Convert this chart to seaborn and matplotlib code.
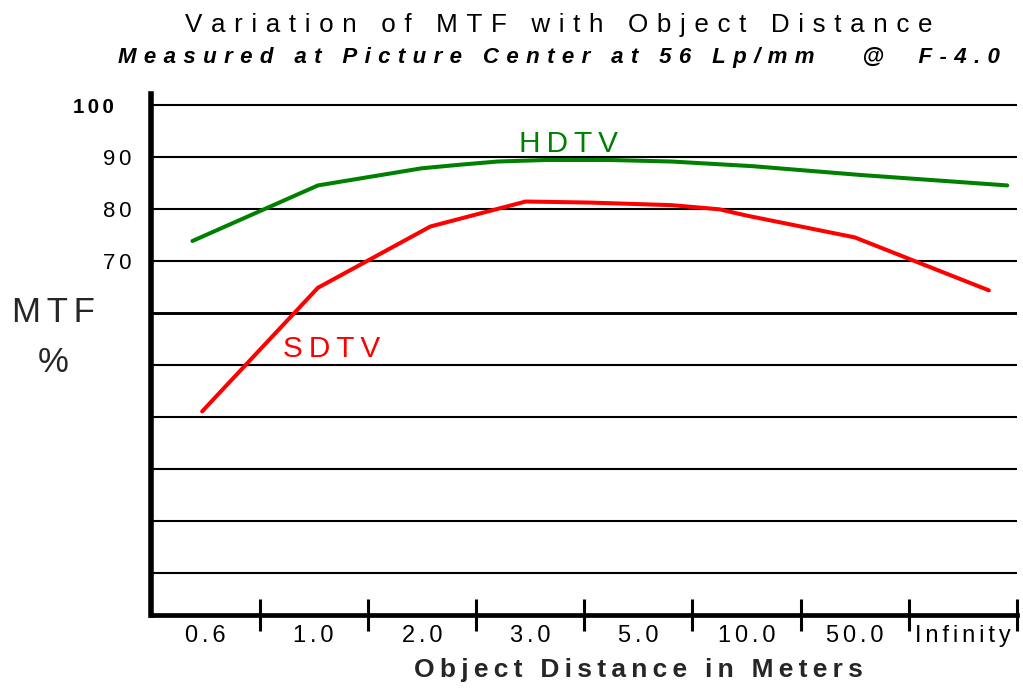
import matplotlib
matplotlib.use("Agg")
import matplotlib.pyplot as plt
import numpy as np
import pandas as pd
import seaborn as sns

# ---------------- data ----------------
categories = ["0.6", "1.0", "2.0", "3.0", "5.0", "10.0", "50.0", "Infinity"]

# positions along the categorical axis (category index units) and MTF values (%)
hdtv_pos = [-0.12, 1.04, 2.0, 2.36, 2.70, 3.15, 3.73, 4.31, 5.06, 6.06, 7.41]
hdtv_mtf = [73.9, 84.6, 87.9, 88.6, 89.2, 89.5, 89.5, 89.2, 88.3, 86.6, 84.6]

sdtv_pos = [-0.03, 1.04, 2.08, 2.96, 3.55, 4.31, 4.75, 5.0, 6.0, 7.24]
sdtv_mtf = [41.1, 64.9, 76.7, 81.5, 81.3, 80.8, 80.0, 78.8, 74.6, 64.4]

grid_values = [10, 20, 30, 40, 50, 60, 70, 80, 90, 100]
ytick_labels = ["", "", "", "", "", "", "70", "80", "90", ""]

title = "Variation of MTF with Object Distance"
subtitle = "Measured at Picture Center at 56 Lp/mm   @  F-4.0"
xlabel = "Object Distance in Meters"
ylabel_top = "MTF"
ylabel_bottom = "%"

# ---------------- style ----------------
sns.set_theme(style="white")
FAM = ["Liberation Sans", "DejaVu Sans"]
plt.rcParams["font.family"] = FAM
plt.rcParams["text.color"] = "black"
plt.rcParams["xtick.color"] = "black"
plt.rcParams["ytick.color"] = "black"


def track(s, sep):
    """Letter-spaced rendering of a string (extra tracking like the original)."""
    return sep.join(s)


HAIR6 = "\u2006"   # 1/6 em
THIN = "\u2009"    # 1/5 em
THIRD = "\u2004"   # 1/3 em

fig = plt.figure(figsize=(10.23, 6.88), dpi=100)
ax = fig.add_axes([151.3 / 1023, (688 - 615) / 688, (1017 - 151.3) / 1023, (615 - 94) / 688])

df_h = pd.DataFrame({"pos": hdtv_pos, "mtf": hdtv_mtf})
df_s = pd.DataFrame({"pos": sdtv_pos, "mtf": sdtv_mtf})
sns.lineplot(data=df_h, x="pos", y="mtf", ax=ax, color="#008000", linewidth=2.9,
             sort=False, zorder=3)
sns.lineplot(data=df_s, x="pos", y="mtf", ax=ax, color="#ff0000", linewidth=2.9,
             sort=False, zorder=3)

ax.set_xlim(-0.5, len(categories) - 0.5)
ax.set_ylim(1.9, 102.2)

# spines
for s in ["top", "right"]:
    ax.spines[s].set_visible(False)
ax.spines["left"].set_linewidth(4.0)
ax.spines["bottom"].set_linewidth(3.4)
ax.spines["left"].set_color("black")
ax.spines["bottom"].set_color("black")

# x ticks: labels at category centres, tick marks at band boundaries
ax.set_xticks(np.arange(len(categories)))
ax.set_xticklabels([track(c, HAIR6) for c in categories])
ax.set_xticks(np.arange(0.5, len(categories), 1.0), minor=True)
ax.tick_params(axis="x", which="major", length=0, pad=7.5, labelsize=17)
ax.tick_params(axis="x", which="minor", direction="inout", length=23, width=2.2,
               color="black", bottom=True)

# y grid
ax.set_yticks(grid_values)
ax.set_yticklabels([track(t, HAIR6) for t in ytick_labels])
ax.tick_params(axis="y", which="both", length=0, pad=14.6, labelsize=16)
ax.yaxis.grid(True, color="black", linewidth=1.5)
ax.xaxis.grid(False)
ax.set_axisbelow(True)
for val, gl in zip(grid_values, ax.get_ygridlines()):
    if val == 60:
        gl.set_linewidth(2.1)

ax.annotate(track("100", HAIR6), xy=(0, 100), xycoords=("axes fraction", "data"),
            xytext=(-27, 0), textcoords="offset points", ha="right",
            va="center_baseline", fontsize=14.8, fontweight="bold")

# series labels
ax.text(2.90, 90.95, track("HDTV", THIN), color="#008000", fontsize=21.4,
        ha="left", va="baseline")
ax.text(0.72, 51.5, track("SDTV", THIN), color="#ff0000", fontsize=21.4,
        ha="left", va="baseline")

# axis labels
ax.set_xlabel(track(xlabel, THIN), fontsize=19, fontweight="bold", labelpad=7)
ax.xaxis.set_label_coords((638 - 151.3) / 865.7, -0.0800, transform=None)
ax.xaxis.label.set_transform(ax.transAxes)
ax.xaxis.label.set_verticalalignment("baseline")
ax.xaxis.label.set_position(((638 - 151.3) / 865.7, -(677 - 615) / 521))
ax.set_ylabel(track(ylabel_top, HAIR6) + "\n" + ylabel_bottom, rotation=0,
              fontsize=25, ha="center", va="center", linespacing=1.65)
ax.yaxis.set_label_coords(-0.1136, 0.532)

# titles
fig.text(558.5 / 1023, 1 - 32 / 688, track(title, THIRD), fontsize=18.7,
         ha="center", va="baseline")
fig.text(559 / 1023, 1 - 63.3 / 688, track(subtitle, THIRD), fontsize=16,
         fontweight="bold", fontstyle="italic", ha="center", va="baseline")

fig.savefig("out.png", dpi=100, facecolor="white")
